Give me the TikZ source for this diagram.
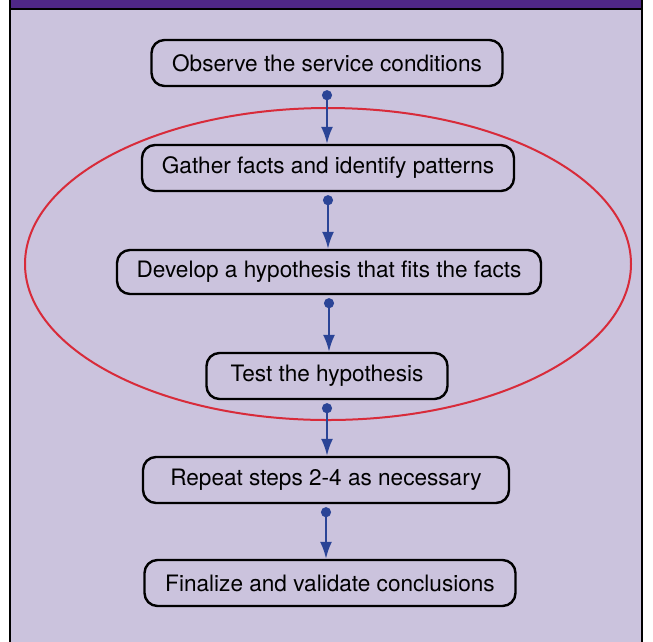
\documentclass[tikz,border=0pt]{standalone}
\usepackage{fontspec}
\setmainfont{TeX Gyre Heros}
\usetikzlibrary{arrows.meta}
\definecolor{panelfill}{HTML}{CBC3DD}
\definecolor{bandcol}{HTML}{4F2786}
\definecolor{flowcol}{HTML}{2B4496}
\definecolor{loopcol}{HTML}{D82B3A}
\tikzset{
  stepbox/.style={draw=black,line width=2.4pt,rounded corners=13pt,
    minimum height=46pt,inner xsep=12pt,font=\fontsize{22.6}{26}\selectfont},
  flow/.style={draw=flowcol,line width=2.2pt,
    {Circle[length=10pt]}-{Latex[length=17pt,width=12pt]}},
}
\begin{document}
\begin{tikzpicture}[x=1pt,y=-1pt]
  \useasboundingbox (0,0) rectangle (653,641);
%%
  % Panel
  \fill[panelfill] (10,8) rectangle (642,650);
  \fill[bandcol] (10,0) rectangle (642,8);
  \draw[line width=2.4pt] (10,-5) -- (10,650);
  \draw[line width=2.4pt] (642,-5) -- (642,650);
  \draw[line width=2.4pt] (10,9) -- (642,9);
  % Loop of steps 2-4
  \draw[loopcol,line width=2pt] (328,264) ellipse (303pt and 156pt);
  % Node: steps
  \node[stepbox,minimum width=351pt] (observe) at (327,63) {Observe the service conditions};
  \node[stepbox,minimum width=372pt] (gather) at (328,168) {Gather facts and identify patterns};
  \node[stepbox,minimum width=424pt,minimum height=44pt] (develop) at (329,272) {Develop a hypothesis that fits the facts};
  \node[stepbox,minimum width=241pt] (test) at (327,376) {Test the hypothesis};
  \node[stepbox,minimum width=366pt] (repeat) at (326,480) {Repeat steps 2-4 as necessary};
  \node[stepbox,minimum width=371pt] (final) at (330,583) {Finalize and validate conclusions};
  % Edge: step -> next step
  \foreach \a/\b in {observe/gather,gather/develop,develop/test,test/repeat,repeat/final}
    \draw[flow] ([yshift=-3pt]\a.south) -- (\a.south |- \b.north);
%
\end{tikzpicture}
\end{document}
